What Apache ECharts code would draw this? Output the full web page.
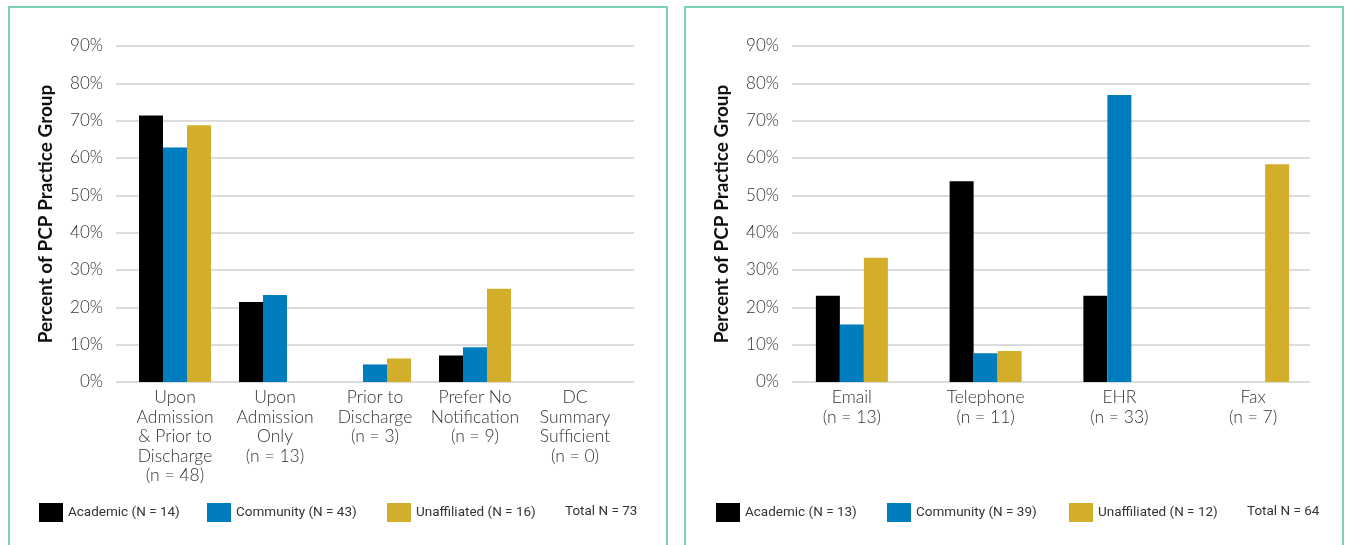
<!DOCTYPE html>
<html lang="en">
<head>
  <meta charset="utf-8">
  <title>PCP notification preferences</title>
  <script src="https://cdn.jsdelivr.net/npm/echarts@6/dist/echarts.min.js"></script>
  <style>
    body { margin: 0; background: #fff; }
    .panel { position: absolute; top: 6px; width: 656px; height: 560px; border: 2px solid #79d2b3; }
    #main { position: absolute; left: 0; top: 0; width: 1350px; height: 545px; }
  </style>
</head>
<body>
<div class="panel" style="left:8px"></div>
<div class="panel" style="left:684px"></div>
<div id="main"></div>
<script type="text/javascript">
    // left chart: when to notify
    var timingCats = ['Upon\nAdmission\n& Prior to\nDischarge\n(n = 48)', 'Upon\nAdmission\nOnly\n(n = 13)',
        'Prior to\nDischarge\n(n = 3)', 'Prefer No\nNotification\n(n = 9)', 'DC\nSummary\nSufficient\n(n = 0)'];
    var timingAcademic = [71.4, 21.4, 0, 7.1, 0];
    var timingCommunity = [62.8, 23.3, 4.7, 9.3, 0];
    var timingUnaffiliated = [68.8, 0, 6.3, 25.0, 0];
    var timingNames = ['Academic (N = 14)', 'Community (N = 43)', 'Unaffiliated (N = 16)'];
    var timingTotal = 'Total N = 73';

    // right chart: how to notify
    var methodCats = ['Email\n(n = 13)', 'Telephone\n(n = 11)', 'EHR\n(n = 33)', 'Fax\n(n = 7)'];
    var methodAcademic = [23.1, 53.8, 23.1, 0];
    var methodCommunity = [15.4, 7.7, 76.9, 0];
    var methodUnaffiliated = [33.3, 8.3, 0, 58.3];
    var methodNames = ['Academic (N = 13)', 'Community (N = 39)', 'Unaffiliated (N = 12)'];
    var methodTotal = 'Total N = 64';

    var colors = ['#000000', '#007dbf', '#d3ae2b'];
    var labelFont = 'Lato, "Noto Sans", sans-serif';
    var legendFont = 'Roboto, sans-serif';

    var myChart = echarts.init(document.getElementById('main'));

    function valueAxis(grid, visible) {
        return {
            gridIndex: grid,
            type: 'value',
            min: 0,
            max: 90,
            interval: 10,
            show: visible,
            name: 'Percent of PCP Practice Group',
            nameLocation: 'middle',
            nameRotate: 90,
            nameGap: 61,
            nameTextStyle: { fontFamily: labelFont, fontWeight: 'bold', fontSize: 19, color: '#111' },
            axisLine: { show: false },
            axisTick: { show: false },
            axisLabel: { formatter: '{value}%', margin: 13, fontFamily: labelFont, fontWeight: 300, fontSize: 17, color: '#333' },
            splitLine: { lineStyle: { color: '#dcdcdc', width: 2 } }
        };
    }

    function catAxis(grid, cats) {
        return {
            gridIndex: grid,
            type: 'category',
            data: cats,
            axisLine: { show: false },
            axisTick: { show: false },
            axisLabel: { margin: 6, interval: 0, fontFamily: labelFont, fontWeight: 300, fontSize: 17.5, lineHeight: 19.5, color: '#333' }
        };
    }

    function bars(name, data, color, axisIdx) {
        return {
            name: name,
            type: 'bar',
            xAxisIndex: axisIdx,
            yAxisIndex: axisIdx,
            barWidth: 24,
            barGap: 0,
            itemStyle: { color: color },
            data: data
        };
    }

    function legendAt(name, left) {
        return {
            data: [name],
            left: left,
            top: 503,
            padding: 0,
            icon: 'rect',
            itemWidth: 24,
            itemHeight: 19,
            selectedMode: false,
            textStyle: { fontFamily: legendFont, fontSize: 13.5, color: '#333' }
        };
    }

    option = {
        animation: false,
        color: colors,
        grid: [
            { left: 116, width: 518, top: 46, height: 336 },
            { left: 125, width: 500, top: 46, height: 336 },
            { left: 792, width: 518, top: 46, height: 336 },
            { left: 785, width: 535, top: 46, height: 336 }
        ],
        xAxis: [
            { gridIndex: 0, type: 'value', show: false, min: 0, max: 1 },
            catAxis(1, timingCats),
            { gridIndex: 2, type: 'value', show: false, min: 0, max: 1 },
            catAxis(3, methodCats)
        ],
        yAxis: [valueAxis(0, true), valueAxis(1, false), valueAxis(2, true), valueAxis(3, false)],
        legend: [
            legendAt(timingNames[0], 39), legendAt(timingNames[1], 207), legendAt(timingNames[2], 387),
            legendAt(methodNames[0], 716), legendAt(methodNames[1], 887), legendAt(methodNames[2], 1069)
        ],
        graphic: [
            { type: 'text', left: 565, top: 505, style: { text: timingTotal, font: '13.5px ' + legendFont, fill: '#333' } },
            { type: 'text', left: 1247, top: 505, style: { text: methodTotal, font: '13.5px ' + legendFont, fill: '#333' } }
        ],
        series: [
            bars(timingNames[0], timingAcademic, colors[0], 1),
            bars(timingNames[1], timingCommunity, colors[1], 1),
            bars(timingNames[2], timingUnaffiliated, colors[2], 1),
            bars(methodNames[0], methodAcademic, colors[0], 3),
            bars(methodNames[1], methodCommunity, colors[1], 3),
            bars(methodNames[2], methodUnaffiliated, colors[2], 3)
        ]
    };

    myChart.setOption(option);
</script>
</body>
</html>
